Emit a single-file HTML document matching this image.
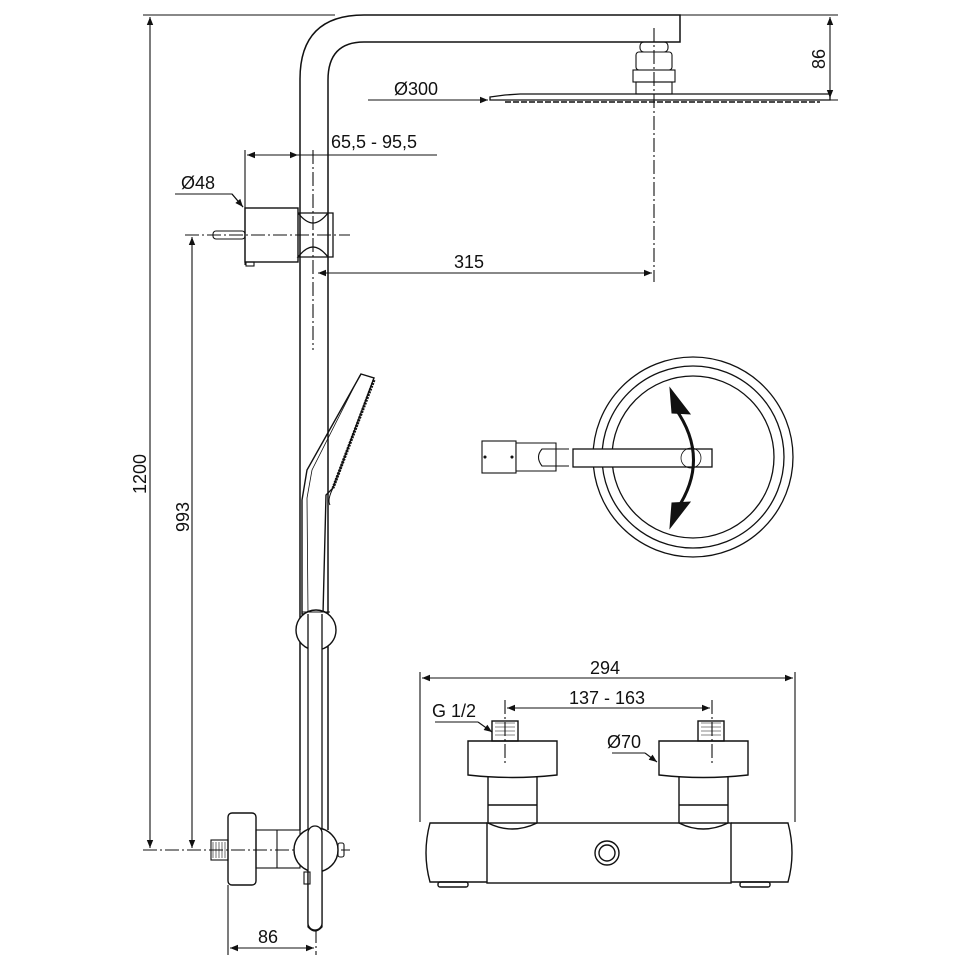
<!DOCTYPE html>
<html><head><meta charset="utf-8"><style>
html,body{margin:0;padding:0;background:#fff;}
svg{display:block;}
text{font-family:"Liberation Sans",sans-serif;font-size:18px;fill:#111;}
</style></head><body>
<svg width="970" height="970" viewBox="0 0 970 970" xmlns="http://www.w3.org/2000/svg">
<defs>
<marker id="a" viewBox="0 0 10 10" refX="10" refY="5" markerWidth="12" markerHeight="8" markerUnits="userSpaceOnUse" orient="auto-start-reverse"><path d="M0,1 L10,5 L0,9 Z" fill="#111"/></marker>
</defs>
<g stroke="#111" stroke-width="1.1" fill="none">
<line x1="143" y1="15" x2="335" y2="15"/>
<line x1="680" y1="15" x2="838" y2="15"/>
<line x1="660" y1="100" x2="838" y2="100"/>
<line x1="150" y1="17" x2="150" y2="848" marker-start="url(#a)" marker-end="url(#a)"/>
<line x1="192" y1="237" x2="192" y2="848" marker-start="url(#a)" marker-end="url(#a)"/>
<line x1="830" y1="17" x2="830" y2="98" marker-start="url(#a)" marker-end="url(#a)"/>
<line x1="368" y1="100" x2="488" y2="100" marker-end="url(#a)"/>
<line x1="245" y1="150" x2="245" y2="265"/>
<line x1="247" y1="155" x2="298" y2="155" marker-start="url(#a)" marker-end="url(#a)"/>
<line x1="298" y1="155" x2="437" y2="155"/>
<polyline points="175,194 232,194 243,207"/>
<line x1="232" y1="194" x2="243" y2="207" marker-end="url(#a)"/>
<line x1="318" y1="273" x2="652" y2="273" marker-start="url(#a)" marker-end="url(#a)"/>
<g stroke-dasharray="14,3,2,3">
<line x1="654" y1="28" x2="654" y2="282"/>
<line x1="185" y1="235" x2="350" y2="235"/>
<line x1="313" y1="150" x2="313" y2="350"/>
<line x1="143" y1="850" x2="350" y2="850"/>
<line x1="316" y1="775" x2="316" y2="955"/>
<line x1="505" y1="700" x2="505" y2="765"/>
<line x1="712" y1="700" x2="712" y2="765"/>
</g>
<path d="M300,830 L300,79 Q300,15 364,15 L680,15 L680,42 L364,42 Q328,42 328,80 L328,830" stroke-width="1.5"/>
<rect x="640" y="42" width="28" height="10" rx="4"/>
<rect x="636" y="52" width="36" height="18" rx="3"/>
<rect x="633" y="70" width="42" height="12"/>
<rect x="636" y="82" width="36" height="12"/>
<path d="M490,97 L505,95 L520,94 L830,94 L830,100 L490,100 Z" stroke-width="1.3"/>
<line x1="505" y1="102" x2="820" y2="102" stroke-dasharray="6,2" stroke-width="1.5"/>
<rect x="245" y="208" width="53" height="54" stroke-width="1.4"/>
<rect x="213" y="231" width="32" height="8" rx="3"/>
<rect x="246" y="262" width="8" height="4"/>
<path d="M298,213 L333,213 L333,257 L298,257 Q306,247 313,247 Q320,247 328,257 M298,213 Q306,223 313,223 Q320,223 328,213" stroke-width="1.3"/>
<path d="M361,374 L374,378 L333,488 L326,495 L323,614 L302,614 L302,500 L307,470 Z" stroke-width="1.4"/>
<path d="M360,375 L312,470 L307,498 L308,614" stroke-width="0.8"/>
<path d="M333,488 Q327,500 330,505" stroke-width="1"/>
<line x1="374" y1="380" x2="333" y2="488" stroke-width="3" stroke-dasharray="2,1"/>
<circle cx="316" cy="630" r="20" fill="#fff" stroke-width="1.4"/>
<path d="M308,614 L308,927 Q315,935 322,927 L322,614" fill="#fff" stroke-width="1.3"/>
<line x1="302" y1="612" x2="330" y2="612"/>
<rect x="228" y="813" width="28" height="72" rx="4" stroke-width="1.4"/>
<rect x="211" y="840" width="17" height="20"/>
<path d="M213,842 V858 M216,842 V858 M219,842 V858 M222,842 V858 M225,842 V858" stroke-width="0.6"/>
<rect x="256" y="830" width="44" height="38"/>
<line x1="277" y1="830" x2="277" y2="868"/>
<circle cx="316" cy="850" r="22" fill="#fff" stroke-width="1.4"/>
<rect x="308" y="826" width="14" height="104" rx="7" fill="#fff" stroke-width="1.3"/>
<rect x="338" y="843" width="6" height="14" rx="2"/>
<rect x="304" y="872" width="6" height="12"/>
<line x1="228" y1="885" x2="228" y2="955"/>
<line x1="230" y1="948" x2="314" y2="948" marker-start="url(#a)" marker-end="url(#a)"/>
<circle cx="693" cy="457" r="100" stroke-width="1.3"/>
<circle cx="693" cy="457" r="91" stroke-width="1.3"/>
<circle cx="693" cy="457" r="81" stroke-width="1.3"/>
<rect x="482" y="441" width="34" height="32" fill="#fff"/>
<circle cx="485" cy="457" r="1" fill="#111"/>
<circle cx="512" cy="457" r="1" fill="#111"/>
<path d="M516,443 L556,443 L556,471 L516,471 Z M569,449 L542,449 Q535,457 542,466 L569,466" fill="#fff"/>
<path d="M556,449 L569,449 M556,466 L569,466" />
<rect x="573" y="449" width="139" height="18" fill="#fff" stroke-width="1.3"/>
<circle cx="691" cy="458" r="10" stroke-width="0.8"/>
<path d="M675,408 Q712,460 675,512" stroke-width="3"/>
<path d="M670,388 L690,414 L672,413 Z M670,528 L690,502 L672,503 Z" fill="#111" stroke-width="1"/>
<line x1="420" y1="672" x2="420" y2="822"/>
<line x1="795" y1="672" x2="795" y2="822"/>
<line x1="422" y1="678" x2="793" y2="678" marker-start="url(#a)" marker-end="url(#a)"/>
<line x1="507" y1="708" x2="710" y2="708" marker-start="url(#a)" marker-end="url(#a)"/>
<polyline points="435,722 478,722"/>
<line x1="478" y1="722" x2="492" y2="732" marker-end="url(#a)"/>
<polyline points="612,753 645,753"/>
<line x1="645" y1="753" x2="657" y2="762" marker-end="url(#a)"/>
<g stroke-width="1.4">
<rect x="492" y="721" width="26" height="20"/>
<rect x="698" y="721" width="26" height="20"/>
<path d="M468,741 L557,741 L557,775 Q512,780 468,775 Z"/>
<path d="M659,741 L748,741 L748,775 Q703,780 659,775 Z"/>
<path d="M488,777 L488,823 Q512,835 537,823 L537,777 M488,805 L537,805"/>
<path d="M679,777 L679,823 Q703,835 728,823 L728,777 M679,805 L728,805"/>
<rect x="487" y="823" width="244" height="60"/>
<path d="M487,823 L430,823 Q422,853 430,882 L487,882"/>
<path d="M731,823 L788,823 Q796,853 788,882 L731,882"/>
<rect x="438" y="882" width="30" height="5" rx="2"/>
<rect x="740" y="882" width="30" height="5" rx="2"/>
<circle cx="607" cy="853" r="12"/>
<circle cx="607" cy="853" r="8"/>
</g>
<path d="M495,723 H515 M495,727 H515 M495,731 H515 M495,735 H515 M701,723 H721 M701,727 H721 M701,731 H721 M701,735 H721" stroke-width="0.6"/>
</g>
<text x="394" y="95">Ø300</text>
<text x="331" y="148">65,5 - 95,5</text>
<text x="181" y="189">Ø48</text>
<text x="454" y="268">315</text>
<text x="258" y="943">86</text>
<text x="590" y="674">294</text>
<text x="569" y="704">137 - 163</text>
<text x="432" y="717">G 1/2</text>
<text x="607" y="748">Ø70</text>
<text transform="translate(146,494) rotate(-90)">1200</text>
<text transform="translate(189,532) rotate(-90)">993</text>
<text transform="translate(825,69) rotate(-90)">86</text>
</svg>
</body></html>
